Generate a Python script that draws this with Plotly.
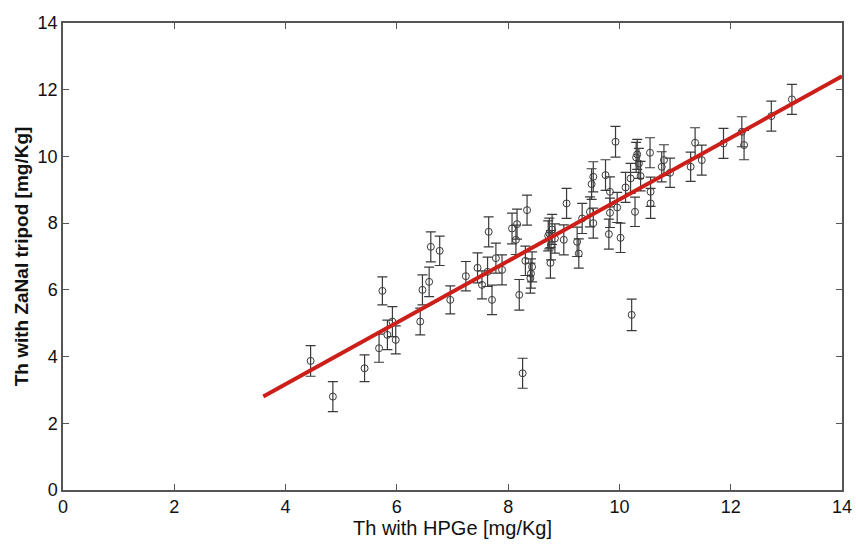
import plotly.graph_objects as go

# Th concentration measured with HPGe (x) vs. ZaNaI tripod (y), mg/Kg
th_hpge = [4.45, 4.85, 5.42, 5.68, 5.83, 5.92, 5.98, 5.74, 6.42, 6.46,
           6.58, 6.61, 6.77, 6.96, 7.24, 7.45, 7.53, 7.63, 7.65, 7.71,
           7.78, 7.89, 8.07, 8.16, 8.14, 8.20, 8.26, 8.31, 8.34, 8.43,
           8.41, 8.40, 8.74, 8.79, 8.77, 8.76, 8.84, 9.00, 9.05, 9.24,
           9.27, 9.33, 9.47, 9.50, 9.53, 9.53, 9.75, 9.83, 9.83, 9.81,
           9.96, 9.93, 10.02, 10.11, 10.20, 10.22, 10.28, 10.32, 10.35, 10.38,
           10.55, 10.56, 10.56, 10.76, 10.80, 10.91, 11.28, 11.36, 11.48, 11.87,
           12.20, 12.24, 12.73, 13.10, 10.30, 8.72]
th_zanai = [3.87, 2.80, 3.65, 4.25, 4.65, 5.05, 4.50, 5.97, 5.05, 6.00,
            6.24, 7.29, 7.17, 5.70, 6.41, 6.66, 6.15, 6.54, 7.74, 5.70,
            6.95, 6.60, 7.84, 7.97, 7.50, 5.85, 3.50, 6.87, 8.39, 6.69,
            6.49, 6.35, 7.69, 7.81, 7.34, 6.81, 7.54, 7.50, 8.59, 7.44,
            7.09, 8.14, 8.34, 9.17, 9.39, 8.00, 9.44, 8.94, 8.31, 7.67,
            8.47, 10.44, 7.56, 9.07, 9.34, 5.25, 8.34, 10.06, 9.79, 9.41,
            10.11, 8.94, 8.59, 9.69, 9.89, 9.51, 9.69, 10.41, 9.89, 10.39,
            10.74, 10.34, 11.21, 11.71, 9.97, 7.62]
th_zanai_err = [0.46, 0.45, 0.40, 0.42, 0.44, 0.45, 0.42, 0.42, 0.40, 0.45,
                0.44, 0.45, 0.44, 0.42, 0.44, 0.45, 0.42, 0.44, 0.45, 0.44,
                0.45, 0.45, 0.46, 0.45, 0.44, 0.46, 0.45, 0.44, 0.45, 0.45,
                0.44, 0.45, 0.46, 0.45, 0.44, 0.46, 0.44, 0.45, 0.45, 0.44,
                0.44, 0.45, 0.45, 0.46, 0.45, 0.45, 0.46, 0.45, 0.44, 0.45,
                0.45, 0.46, 0.44, 0.45, 0.45, 0.47, 0.44, 0.45, 0.45, 0.44,
                0.45, 0.44, 0.45, 0.45, 0.46, 0.44, 0.44, 0.45, 0.45, 0.45,
                0.45, 0.44, 0.45, 0.45, 0.45, 0.45]

# Linear fit y = slope * x + intercept, drawn over the fitted range
fit_slope = 0.923
fit_intercept = -0.52
fit_x = [3.6, 14.0]
fit_y = [fit_slope * v + fit_intercept for v in fit_x]

x_ticks = [0, 2, 4, 6, 8, 10, 12, 14]
y_ticks = [0, 2, 4, 6, 8, 10, 12, 14]

fig = go.Figure()

fig.add_trace(go.Scatter(
    x=th_hpge, y=th_zanai,
    mode="markers",
    marker=dict(symbol="circle-open", size=7, color="#3a3a3a",
                line=dict(width=1, color="#3a3a3a")),
    error_y=dict(type="data", array=th_zanai_err, visible=True,
                 color="#3a3a3a", thickness=1.2, width=5),
    showlegend=False,
))

fig.add_trace(go.Scatter(
    x=fit_x, y=fit_y,
    mode="lines",
    line=dict(color="#cc1f1a", width=4),
    showlegend=False,
))

axis_common = dict(
    showgrid=False, zeroline=False, automargin=False,
    showline=True, linecolor="#555555", linewidth=1.5, mirror="ticks",
    ticks="inside", ticklen=6, tickcolor="#555555", tickwidth=1,
    tickfont=dict(family="Liberation Sans, Arial, sans-serif", size=18, color="#111111"),
)

fig.update_xaxes(
    range=[0, 14], tickvals=x_ticks, ticktext=[str(v) for v in x_ticks],
    title=dict(text="Th with HPGe [mg/Kg]", standoff=2,
               font=dict(family="Liberation Sans, Arial, sans-serif", size=20, color="#111111")),
    **axis_common,
)
fig.update_yaxes(
    range=[0, 14], tickvals=y_ticks, ticktext=[str(v) for v in y_ticks],
    title=dict(text="<b>Th with ZaNaI tripod [mg/Kg]</b>", standoff=4,
               font=dict(family="Liberation Sans, Arial, sans-serif", size=19, color="#111111")),
    **axis_common,
)

fig.update_layout(
    width=856, height=546,
    margin=dict(l=63, r=14, t=23, b=56),
    paper_bgcolor="white", plot_bgcolor="white",
)

fig.write_html("out.html")
